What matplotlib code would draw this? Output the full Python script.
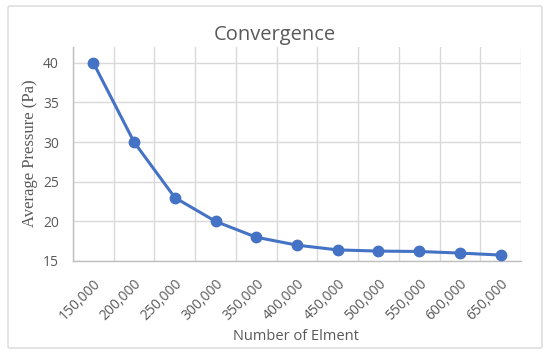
import matplotlib.pyplot as plt
from matplotlib.patches import FancyBboxPatch

# data
elements = ["150,000", "200,000", "250,000", "300,000", "350,000", "400,000",
            "450,000", "500,000", "550,000", "600,000", "650,000"]
pressure = [40, 30, 23, 20, 18, 17, 16.4, 16.25, 16.2, 16.0, 15.75]
y_ticks = [15, 20, 25, 30, 35, 40]

grey_txt = "#595959"
grid_col = "#D9D9D9"
blue = "#4472C4"

fig = plt.figure(figsize=(5.5, 3.56), dpi=100)
fig.patch.set_facecolor("white")

# chart frame (Excel style)
frame = FancyBboxPatch((8 / 550, 1 - 348 / 356), 534 / 550, 342 / 356,
                       boxstyle="round,pad=0,rounding_size=0.004",
                       transform=fig.transFigure, fill=False,
                       edgecolor="#D9D9D9", linewidth=1.0)
fig.patches.append(frame)

ax = fig.add_axes([73 / 550, 1 - 261 / 356, 448 / 550, 214 / 356])

x = list(range(len(elements)))
ax.plot(x, pressure, color=blue, linewidth=2.2, marker="o", markersize=7.5,
        zorder=3, clip_on=False)

ax.set_xlim(-0.5, len(elements) - 0.5)
ax.set_ylim(15, 42)
ax.set_yticks(y_ticks)
ax.set_xticks(x)
ax.set_xticklabels(elements, rotation=45, ha="right", rotation_mode="anchor",
                   fontfamily="Open Sans", fontsize=10, color=grey_txt)
for lab in ax.get_yticklabels():
    lab.set_fontfamily("Open Sans")
    lab.set_fontsize(10)
    lab.set_color(grey_txt)

# gridlines at category boundaries
for b in [i - 0.5 for i in range(len(elements) + 1)]:
    ax.axvline(b, color=grid_col, linewidth=1.0, zorder=1)
for t in y_ticks:
    ax.axhline(t, color=grid_col, linewidth=1.0, zorder=1)

ax.tick_params(axis="y", length=0, pad=10)
ax.tick_params(axis="x", length=0, pad=11)
for s in ["top", "right"]:
    ax.spines[s].set_visible(False)
for s in ["left", "bottom"]:
    ax.spines[s].set_color("#BFBFBF")
    ax.spines[s].set_linewidth(1.0)

fig.text(275 / 550, 1 - 35 / 356, "Convergence", ha="center", va="center",
         fontfamily="Open Sans", fontsize=14.5, color=grey_txt)
fig.text(296 / 550, 1 - 336 / 356, "Number of Elment", ha="center", va="center",
         fontfamily="Open Sans", fontsize=10.5, color=grey_txt)
fig.text(30 / 550, 1 - 153 / 356, "Average Pressure (Pa)", ha="center", va="center",
         rotation=90, fontfamily="Liberation Serif", fontsize=12, color=grey_txt)

fig.savefig("out.png", dpi=100)
